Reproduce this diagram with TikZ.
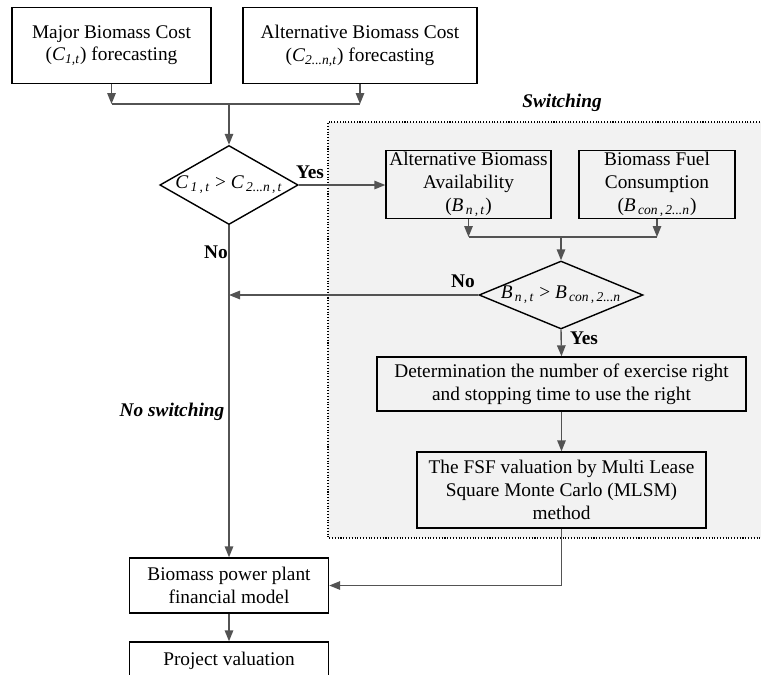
\documentclass[tikz,border=0pt]{standalone}
\usepackage{fontspec}
\setmainfont{Liberation Serif}
\usepackage{tikz}
\usepackage{xcolor}
\usetikzlibrary{arrows.meta,positioning,shapes.geometric}

\tikzset{
  box/.style={draw=black,thick,align=center,inner sep=1pt,font=\fontsize{11}{13}\selectfont},
  decision/.style={draw=black,thick,shape=diamond,inner sep=0pt,font=\fontsize{11}{13}\selectfont},
  flow/.style={draw=gray!65!black,thick,-{Triangle[length=2.2mm,width=1.7mm]}},
  link/.style={draw=gray!65!black,thick},
  tag/.style={font=\fontsize{11}{13}\selectfont\bfseries}
}
\newcommand{\vi}[1]{\textit{#1}}

\begin{document}
\begin{tikzpicture}[x=0.02cm,y=-0.02cm]
  \useasboundingbox (0,0) rectangle (761,674);
  \clip (0,0) rectangle (761,674);

  % switching region (open on the right)
  \fill[gray!10] (328,122) rectangle (830,538);
  \draw[densely dotted,line width=0.6pt] (830,122) -- (328,122) -- (328,538) -- (830,538);
  \node[tag,font=\fontsize{11}{13}\selectfont\bfseries\itshape] (swlab) at (562,103) {Switching};

  % forecasting boxes
  \node[box,minimum width=3.98cm,minimum height=1.52cm] (maj) at (111.5,45.5)
    {Major Biomass Cost\\(\vi{C}\textsubscript{\vi{1,t}}) forecasting};
  \node[box,minimum width=4.68cm,minimum height=1.52cm] (alt) at (360,45.5)
    {Alternative Biomass Cost\\(\vi{C}\textsubscript{\vi{2...n,t}}) forecasting};

  % cost comparison
  \node[decision,aspect=1.75,minimum width=2.66cm,minimum height=1.52cm] (cmp) at (229,185)
    {\vi{C}\textsubscript{\,\vi{1\,,\,t}} > \vi{C}\textsubscript{\,\vi{2...n\,,\,t}}};

  % availability and consumption
  \node[box,minimum width=3.3cm,minimum height=1.34cm] (avail) at (468.5,184.5)
    {Alternative Biomass\\Availability\\(\vi{B}\textsubscript{\,\vi{n\,,\,t}})};
  \node[box,minimum width=3.12cm,minimum height=1.34cm] (cons) at (657,184.5)
    {Biomass Fuel\\Consumption\\(\vi{B}\textsubscript{\,\vi{con\,,\,2...n}})};

  \node[decision,aspect=2.41,minimum width=3.28cm,minimum height=1.36cm] (bcmp) at (561,295)
    {\vi{B}\textsubscript{\,\vi{n\,,\,t}} > \vi{B}\textsubscript{\,\vi{con\,,\,2...n}}};

  \node[box,minimum width=7.38cm,minimum height=1.08cm] (det) at (561.5,384)
    {Determination the number of exercise right\\and stopping time to use the right};
  \node[box,minimum width=5.78cm,minimum height=1.52cm] (fsf) at (561.5,490)
    {The FSF valuation by Multi Lease\\Square Monte Carlo (MLSM)\\method};

  % financial model
  \node[box,minimum width=3.98cm,minimum height=1.1cm] (fin) at (229,585.5)
    {Biomass power plant\\financial model};
  \node[box,minimum width=3.98cm,minimum height=0.76cm] (proj) at (229,661)
    {Project valuation};

  % junctions
  \coordinate (j1) at (229,104);
  \coordinate (j2) at (561,237);

  % connectors
  \draw[flow] (maj.south) -- (maj.south |- j1);
  \draw[flow] (alt.south) -- (alt.south |- j1);
  \draw[link] (maj.south |- j1) -- (alt.south |- j1);
  \draw[flow] (j1) -- (cmp.north);

  \draw[flow] (cmp.east) -- (cmp.east -| avail.west);
  \draw[flow] (avail.south) -- (avail.south |- j2);
  \draw[flow] (cons.south) -- (cons.south |- j2);
  \draw[link] (avail.south |- j2) -- (cons.south |- j2);
  \draw[flow] (j2) -- (bcmp.north);

  \draw[flow] (bcmp.west) -- (bcmp.west -| cmp.south);
  \draw[flow] (bcmp.south) -- (det.north);
  \draw[flow] (det.south) -- (fsf.north);
  \draw[flow] (fsf.south) -- (fsf.south |- fin.east) -- (fin.east);

  \draw[flow] (cmp.south) -- (fin.north);
  \draw[flow] (fin.south) -- (proj.north);

  % labels
  \node[tag] (yes1) at (310,172) {Yes};
  \node[tag] (no1) at (216,252) {No};
  \node[tag] (no2) at (463,281) {No};
  \node[tag] (yes2) at (584,338) {Yes};
  \node[tag,font=\fontsize{11}{13}\selectfont\bfseries\itshape] (noswlab) at (172,412) {No switching};
\end{tikzpicture}
\end{document}
